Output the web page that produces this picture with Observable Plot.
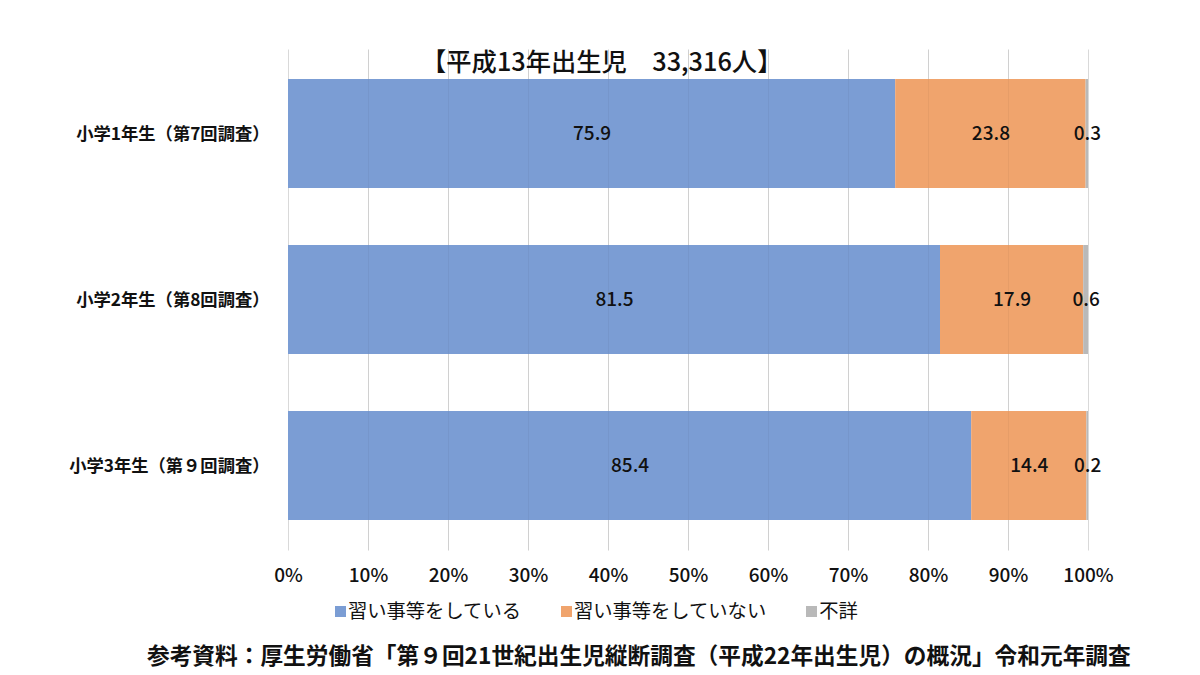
<!DOCTYPE html>
<html><head><meta charset="utf-8">
<script src="https://cdn.jsdelivr.net/npm/d3@7"></script>
<script src="https://cdn.jsdelivr.net/npm/@observablehq/plot@0.6"></script>
<style>
body{margin:0;background:#fff;font-family:"Noto Sans CJK JP","Noto Sans",sans-serif;}
#wrap{position:relative;width:1200px;height:675px;overflow:hidden;}
#title{position:absolute;top:42px;left:421px;font-size:25.3px;font-weight:500;color:#111;white-space:nowrap;line-height:36px;}
#legend{position:absolute;top:596px;left:335px;display:flex;gap:40px;font-size:19.3px;color:#111;line-height:28px;white-space:nowrap;}
#legend span.sw{display:inline-block;width:11px;height:11px;margin-right:2px;vertical-align:1px;}
#caption{position:absolute;top:639px;left:147px;font-size:22.7px;font-weight:bold;color:#111;white-space:nowrap;line-height:32px;}
#chart{position:absolute;top:0;left:0;}
</style></head>
<body><div id="wrap"><div id="chart"></div><div id="title"></div><div id="legend"></div><div id="caption"></div></div>
<script>
const title = "【平成13年出生児　33,316人】";
const categories = ["小学1年生（第7回調査）","小学2年生（第8回調査）","小学3年生（第９回調査）"];
const series = ["習い事等をしている","習い事等をしていない","不詳"];
const colors = ["#7b9dd4","#f0a46d","#b9b9b9"];
const doing = [75.9, 81.5, 85.4];
const notDoing = [23.8, 17.9, 14.4];
const unknown = [0.3, 0.6, 0.2];
const xTicks = [0,10,20,30,40,50,60,70,80,90,100];
const caption = "参考資料：厚生労働省「第９回21世紀出生児縦断調査（平成22年出生児）の概況」令和元年調査";

const valuesBySeries = [doing, notDoing, unknown];
const data = [];
categories.forEach((c,i)=>series.forEach((s,j)=>data.push({cat:c, series:s, order:j, value:valuesBySeries[j][i]})));

const stackOpts = {x:"value", y:"cat"};
const plot = Plot.plot({
  width:1200, height:595,
  marginLeft:288, marginRight:112, marginTop:49.5, marginBottom:44.5,
  style:{fontFamily:'"Noto Sans CJK JP","Noto Sans",sans-serif', color:"#111", background:"transparent"},
  x:{domain:[0,100], ticks:xTicks, tickFormat:d=>d+"%", label:null},
  y:{domain:categories, paddingInner:0.341, paddingOuter:0.1707, label:null},
  color:{domain:series, range:colors},
  marks:[
    Plot.ruleX(xTicks, {stroke:"#d9d9d9", strokeWidth:1}),
    Plot.barX(data, Plot.stackX({...stackOpts, fill:"series", order:"order"})),
    Plot.ruleX(xTicks.slice(1,-1), {stroke:"#000", strokeOpacity:0.04}),
    Plot.text(data, Plot.stackX({...stackOpts, order:"order", text:d=>d.value.toFixed(1), fill:"#111", fontSize:19, fontWeight:500})),
    Plot.axisX({ticks:xTicks, tickFormat:d=>d+"%", tickSize:0, tickPadding:17, fontSize:19, fontWeight:500, label:null}),
    Plot.axisY({tickSize:0, tickPadding:19, fontSize:17.3, fontWeight:"bold", label:null})
  ]
});
document.getElementById("chart").append(plot);
document.getElementById("title").textContent = title;
document.getElementById("caption").textContent = caption;
const lg = document.getElementById("legend");
series.forEach((s,i)=>{
  const it = document.createElement("div");
  it.innerHTML = `<span class="sw" style="background:${colors[i]}"></span>${s}`;
  lg.append(it);
});
</script></body></html>
